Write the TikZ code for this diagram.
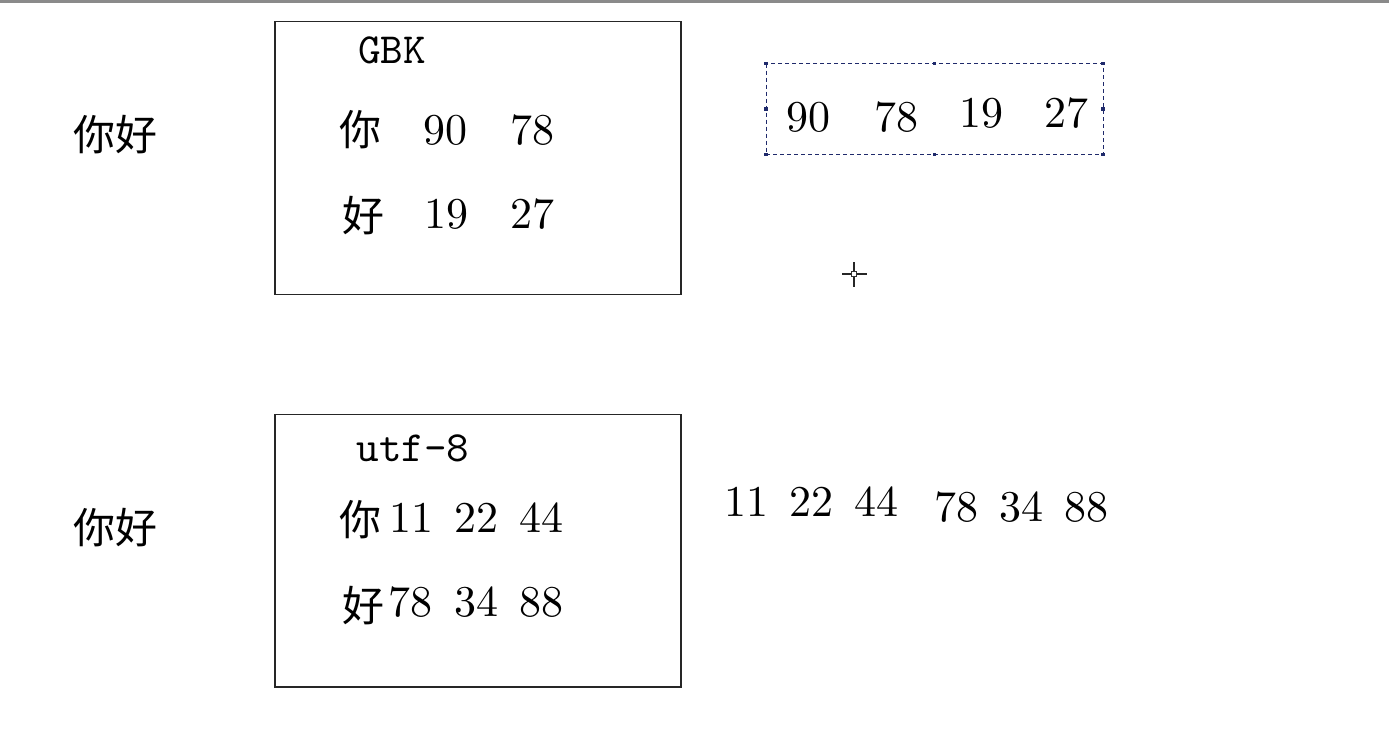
\documentclass[tikz,border=0pt]{standalone}
\usepackage{fontspec}
\newfontfamily\cjk{Noto Sans CJK SC}
\newfontfamily\cmten{lmroman10-regular}[Extension=.otf]
\newfontfamily\cmmono{lmmono10-regular}[Extension=.otf]
\definecolor{selnavy}{HTML}{1F2A6B}
\definecolor{topgray}{HTML}{8A8A8A}
\tikzset{
  num/.style={inner sep=0pt, font=\cmten\fontsize{44}{50}\selectfont},
  han/.style={inner sep=0pt, font=\cjk\fontsize{42}{50}\selectfont},
  label/.style={inner sep=0pt, font=\cmmono\fontsize{43}{50}\selectfont},
  frame/.style={draw=black!85, line width=1.2pt},
  sel/.style={draw=selnavy, dashed, dash pattern=on 4pt off 3pt, line width=1pt},
  handle/.style={fill=selnavy, draw=none, minimum size=3.5pt, inner sep=0pt, rectangle}
}
\begin{document}
\begin{tikzpicture}[x=1pt,y=-1pt]
\useasboundingbox (0,0) rectangle (1389,742);
\fill[topgray] (0,0) rectangle (1389,2.5);

% left labels
\node[han] (lt) at (115,135) {你好};
\node[han] (lb) at (115,528) {你好};

% GBK box
\draw[frame] (275,21.5) rectangle (681,294.5);
\node[label] (gbk) at (392,50) {GBK};
\node[han] (g1) at (360,130) {你};
\node[num] (g2) at (445,130) {90};
\node[num] (g3) at (532,130) {78};
\node[han] (g4) at (363,216) {好};
\node[num] (g5) at (446,214) {19};
\node[num] (g6) at (532,214) {27};

% selection
\draw[sel] (766,63.5) rectangle (1103,154.5);
\foreach \p in {(766,63.5),(934.5,63.5),(1103,63.5),(766,109),(1103,109),(766,154.5),(934.5,154.5),(1103,154.5)}
  \node[handle] at \p {};
\node[num] (s1) at (808,117) {90};
\node[num] (s2) at (896,117) {78};
\node[num] (s3) at (981,113) {19};
\node[num] (s4) at (1066,113) {27};

% cursor
\coordinate (cur) at (854,274);
\draw[line width=1.2pt, black!85] (842,274) -- (851.5,274) (856.5,274) -- (867,274)
  (854,262) -- (854,271.5) (854,276.5) -- (854,287);
\draw[line width=0.9pt, black!80, fill=white] (851.5,271.5) rectangle (856.5,276.5);

% utf-8 box
\draw[frame] (275,414.5) rectangle (681,687);
\node[label] (utf) at (413,448) {utf-8};
\node[han] (u1) at (360,520) {你};
\node[num] (u2) at (411,518) {11};
\node[num] (u3) at (476,518) {22};
\node[num] (u4) at (541,518) {44};
\node[han] (u5) at (363,606) {好};
\node[num] (u6) at (410,602) {78};
\node[num] (u7) at (476,602) {34};
\node[num] (u8) at (541,602) {88};

% right utf-8 bytes
\node[num] (r1) at (746,502) {11};
\node[num] (r2) at (811,502) {22};
\node[num] (r3) at (876,502) {44};
\node[num] (r4) at (956,507) {78};
\node[num] (r5) at (1021,507) {34};
\node[num] (r6) at (1086,507) {88};
\end{tikzpicture}
\end{document}
